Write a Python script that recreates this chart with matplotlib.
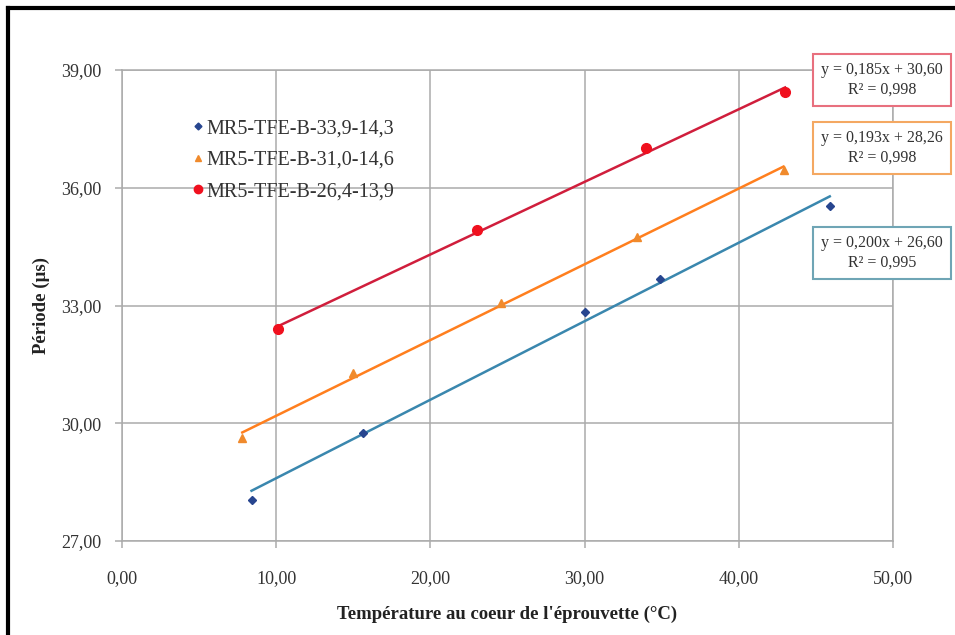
import matplotlib

matplotlib.use("Agg")
import matplotlib.pyplot as plt
import numpy as np
from matplotlib.lines import Line2D
from matplotlib.ticker import FuncFormatter, MultipleLocator

# data
labels = ["MR5-TFE-B-33,9-14,3", "MR5-TFE-B-31,0-14,6", "MR5-TFE-B-26,4-13,9"]
x_blue = [8.4, 15.6, 30.0, 34.9, 45.9]
y_blue = [28.05, 29.76, 32.84, 33.68, 35.54]
x_orange = [7.8, 15.0, 24.6, 33.4, 42.9]
y_orange = [29.63, 31.29, 33.06, 34.75, 36.44]
x_red = [10.1, 23.0, 34.0, 43.0]
y_red = [32.40, 34.92, 37.01, 38.44]
slopes = [0.200, 0.193, 0.185]
intercepts = [26.60, 28.26, 30.60]
r2 = [0.995, 0.998, 0.998]

plt.rcParams.update({"font.family": ["Liberation Serif", "DejaVu Serif"]})

marker_colors = ["#27458F", "#F08A2C", "#F0101E"]
line_colors = ["#3A87AE", "#FF7F1E", "#D01E3C"]
box_colors = ["#6FA5B5", "#F4A862", "#E8707E"]
markers = ["D", "^", "o"]
msizes = [4.5, 6, 7]

fig = plt.figure(figsize=(9.55, 6.35), dpi=100)
ax = fig.add_axes([122 / 955, 1 - 541 / 635, (893 - 122) / 955, (541 - 70) / 635])

xs = [x_blue, x_orange, x_red]
ys = [y_blue, y_orange, y_red]
for i in range(3):
    xx = np.array([min(xs[i]), max(xs[i])])
    ax.plot(xx, slopes[i] * xx + intercepts[i], color=line_colors[i], lw=1.8, zorder=3)
    ax.plot(xs[i], ys[i], linestyle="none", marker=markers[i], ms=msizes[i],
            color=marker_colors[i], zorder=4)

ax.set_xlim(0, 50)
ax.set_ylim(27, 39)
ax.xaxis.set_major_locator(MultipleLocator(10))
ax.yaxis.set_major_locator(MultipleLocator(3))
fmt = FuncFormatter(lambda v, p: f"{v:.2f}".replace(".", ","))
ax.xaxis.set_major_formatter(fmt)
ax.yaxis.set_major_formatter(fmt)
ax.grid(color="#ABABAB", lw=1.1)
ax.set_axisbelow(True)
for s in ax.spines.values():
    s.set_color("#ABABAB")
    s.set_linewidth(1.1)
ax.tick_params(colors="#ABABAB", labelcolor="#333333", labelsize=13, length=5, width=1.1)
ax.tick_params(axis="x", pad=16)
ax.tick_params(axis="y", pad=10)
ax.set_xlabel("Température au coeur de l'éprouvette (°C)", fontsize=13.5, fontweight="bold",
              color="#222222", labelpad=13)
ax.set_ylabel("Période (µs)", fontsize=13.5, fontweight="bold", color="#222222", labelpad=8)

handles = [Line2D([], [], linestyle="none", marker=markers[i], ms=msizes[i] - 1,
                  color=marker_colors[i]) for i in range(3)]
ax.legend(handles, labels, loc="upper left", bbox_to_anchor=(0.063, 0.934), frameon=False,
          fontsize=14.5, handletextpad=0.0, handlelength=0.9, labelspacing=0.62,
          labelcolor="#333333")

# trendline equation boxes
box_y = [253, 148, 80]
for i in range(3):
    txt = f"y = {slopes[i]:.3f}x + {intercepts[i]:.2f}".replace(".", ",") + "\n" + \
          f"R² = {r2[i]:.3f}".replace(".", ",")
    fig.text(882 / 955, 1 - box_y[i] / 635, txt, ha="center", va="center", fontsize=11.5,
             color="#333333", linespacing=1.3, multialignment="center",
             bbox=dict(boxstyle="square,pad=0.5", fc="white", ec=box_colors[i], lw=1.5))

# outer frame (cropped on the right and bottom)
fig.add_artist(Line2D([8 / 955, 1], [1 - 8 / 635] * 2, color="black", lw=3))
fig.add_artist(Line2D([8 / 955] * 2, [0, 1 - 8 / 635], color="black", lw=3))

fig.savefig("out.png", dpi=100)
